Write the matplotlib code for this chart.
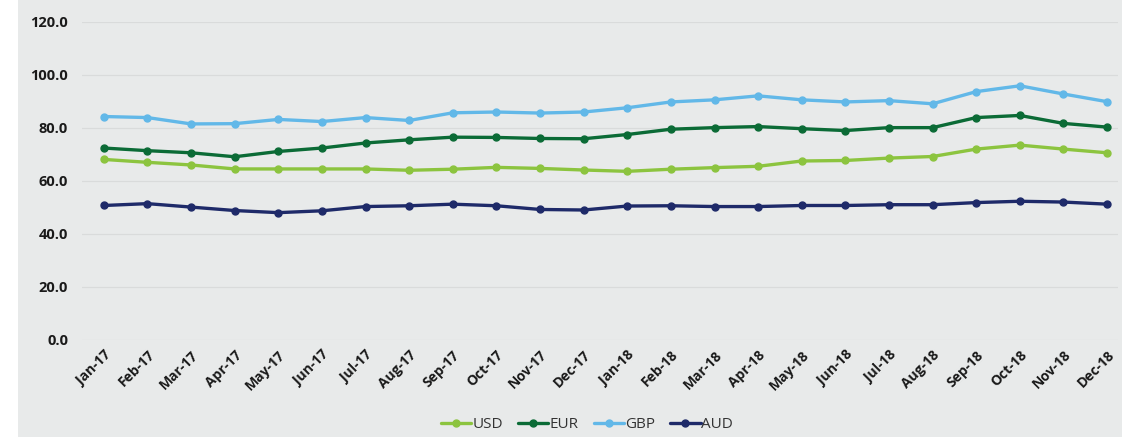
import numpy as np
import matplotlib
matplotlib.use("Agg")
import matplotlib.pyplot as plt
import matplotlib.patches as mpatches

plt.rcParams['font.family'] = ['Open Sans', 'DejaVu Sans']

MONTHS = ["Jan-17", "Feb-17", "Mar-17", "Apr-17", "May-17", "Jun-17", "Jul-17",
          "Aug-17", "Sep-17", "Oct-17", "Nov-17", "Dec-17",
          "Jan-18", "Feb-18", "Mar-18", "Apr-18", "May-18", "Jun-18", "Jul-18",
          "Aug-18", "Sep-18", "Oct-18", "Nov-18", "Dec-18"]
USD = [68.0, 66.9, 65.9, 64.4, 64.4, 64.4, 64.4, 63.9, 64.3, 65.0, 64.6, 64.0,
       63.5, 64.3, 64.9, 65.4, 67.4, 67.6, 68.5, 69.1, 71.9, 73.4, 71.9, 70.5]
EUR = [72.3, 71.3, 70.5, 69.0, 71.0, 72.3, 74.2, 75.4, 76.4, 76.3, 75.9, 75.8,
       77.4, 79.4, 80.0, 80.4, 79.6, 78.9, 80.0, 80.0, 83.8, 84.6, 81.6, 80.2]
GBP = [84.2, 83.8, 81.4, 81.5, 83.1, 82.3, 83.8, 82.7, 85.6, 85.9, 85.5, 85.9,
       87.5, 89.7, 90.5, 92.0, 90.5, 89.7, 90.2, 89.0, 93.6, 95.8, 92.7, 89.8]
AUD = [50.6, 51.3, 50.0, 48.7, 47.9, 48.6, 50.2, 50.5, 51.1, 50.5, 49.1, 48.9,
       50.4, 50.5, 50.2, 50.2, 50.6, 50.6, 50.9, 50.9, 51.7, 52.2, 51.9, 51.1]

SERIES = [("USD", USD, "#8cc43f"), ("EUR", EUR, "#0b6b36"),
          ("GBP", GBP, "#62b8e8"), ("AUD", AUD, "#1e2a69")]

BG = "#e8eaea"
fig = plt.figure(figsize=(11.22, 4.37), dpi=100)
fig.patch.set_facecolor("white")
fig.patches.append(mpatches.Rectangle((18 / 1122, 0), 1, 1, transform=fig.transFigure,
                                      facecolor=BG, edgecolor="none", zorder=-10))

ax = fig.add_axes([82 / 1122, 1 - 339.5 / 437, 1036 / 1122, (339.5 - 21.7) / 437])
ax.set_facecolor(BG)

x = np.arange(len(MONTHS))
for name, vals, col in SERIES:
    ax.plot(x, vals, color=col, lw=2.4, marker="o", ms=5, label=name,
            solid_capstyle="round", zorder=3)

ax.set_xlim(-0.5, 23.25)
ax.set_ylim(0, 120)
ax.set_yticks(np.arange(0, 121, 20))
ax.set_yticklabels([f"{v:.1f}" for v in np.arange(0, 121, 20)],
                   fontsize=10.5, fontweight="bold", color="#1a1a1a")
ax.set_xticks(x)
ax.set_xticklabels(MONTHS, rotation=45, ha="right", rotation_mode="anchor",
                   fontsize=10, fontweight="bold", color="#1a1a1a")
ax.tick_params(axis="both", length=0)
ax.tick_params(axis="y", pad=10)
ax.tick_params(axis="x", pad=6)
ax.grid(axis="y", color="#d9dbdb", lw=0.9)
ax.set_axisbelow(True)
for s in ax.spines.values():
    s.set_visible(False)

fig.legend(loc="center", bbox_to_anchor=(587 / 1122, 1 - 425 / 437), ncol=4,
           frameon=False, fontsize=11, handlelength=2.0, columnspacing=1.0,
           handletextpad=0.05, labelcolor="#333333")

fig.savefig("out.png", dpi=100, facecolor=fig.get_facecolor())
